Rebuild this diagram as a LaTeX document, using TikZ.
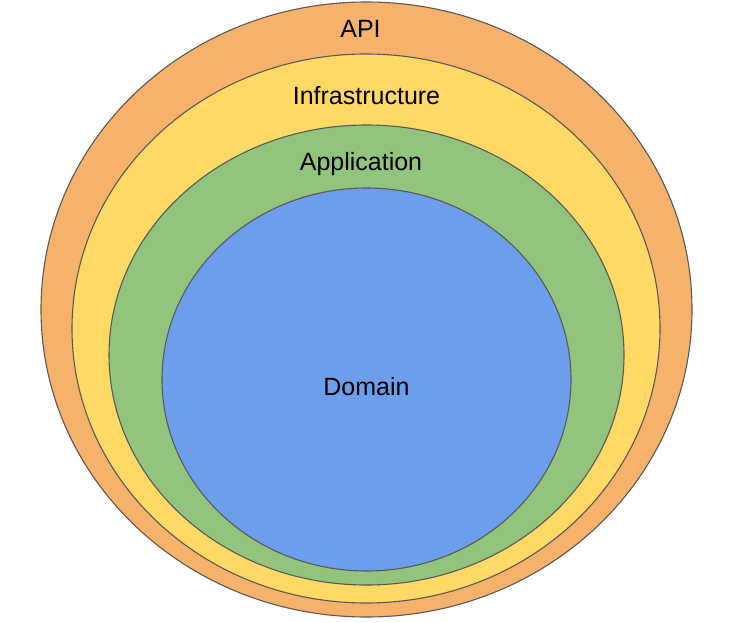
\documentclass[tikz,border=0pt]{standalone}
\usepackage{fontspec}
\setmainfont{Liberation Sans}
\definecolor{apiC}{HTML}{F6B26B}
\definecolor{infC}{HTML}{FFD966}
\definecolor{appC}{HTML}{93C47D}
\definecolor{domC}{HTML}{6D9EEB}
\definecolor{edgeC}{HTML}{595959}
\tikzset{
  ring/.style={draw=edgeC, line width=1.1pt},
  lbl/.style={anchor=base, inner sep=0pt, font=\fontsize{25}{30}\selectfont, text=black}
}
\begin{document}
\begin{tikzpicture}[x=1pt,y=-1pt]
\useasboundingbox (0,0) rectangle (733,623);
\fill[white] (0,0) rectangle (733,623);
\draw[ring, fill=apiC] (366.5,309.5) ellipse [x radius=325.5, y radius=307.5];
\draw[ring, fill=infC] (366,328.5) ellipse [x radius=294, y radius=274.5];
\draw[ring, fill=appC] (366.5,355) ellipse [x radius=257.5, y radius=230];
\draw[ring, fill=domC] (366.5,379.5) ellipse [x radius=204.5, y radius=191.5];
\node[lbl] (api) at (360.5,37.5) {API};
\node[lbl] (inf) at (366.5,104.5) {Infrastructure};
\node[lbl] (app) at (361,170) {Application};
\node[lbl] (dom) at (366.5,395) {Domain};
\end{tikzpicture}
\end{document}
